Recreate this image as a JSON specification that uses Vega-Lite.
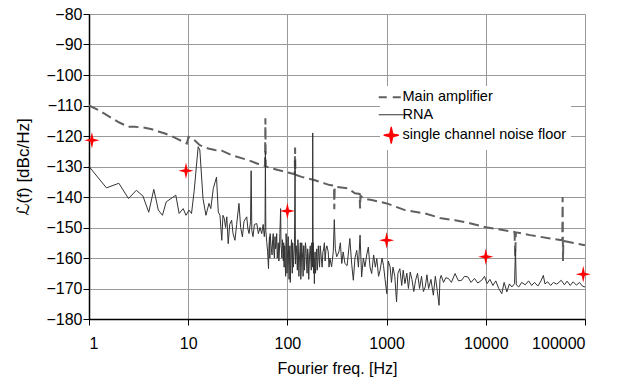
{
  "$schema": "https://vega.github.io/schema/vega-lite/v6.json",
  "width": 496,
  "height": 305,
  "autosize": "none",
  "padding": {"left": 89, "top": 14, "right": 39, "bottom": 62},
  "background": "white",
  "config": {
    "view": {"stroke": null},
    "font": "Liberation Sans",
    "axis": {
      "grid": true,
      "gridColor": "#999999",
      "gridWidth": 1,
      "gridOpacity": 1,
      "domainColor": "#000000",
      "domainWidth": 1.5,
      "tickColor": "#000000",
      "tickWidth": 1,
      "labelColor": "#000000",
      "labelFont": "Liberation Sans",
      "labelFontSize": 16,
      "labelOverlap": false,
      "titleColor": "#000000",
      "titleFont": "Liberation Sans, DejaVu Sans",
      "titleFontSize": 16,
      "titleFontWeight": "normal"
    }
  },
  "datasets": {
    "amp": [
      {"f": 1, "db": -110}, {"f": 1.25, "db": -111.5}, {"f": 1.5, "db": -113.1}, {"f": 2, "db": -115.5},
      {"f": 2.5, "db": -117}, {"f": 2.9, "db": -117}, {"f": 3.5, "db": -117.2}, {"f": 4.3, "db": -117.8},
      {"f": 5, "db": -118.5}, {"f": 5.84, "db": -119.2}, {"f": 6.8, "db": -120}, {"f": 7.94, "db": -121.1},
      {"f": 9.3, "db": -122.2}, {"f": 9.7, "db": -122.5}, {"f": 10.05, "db": -120.3}, {"f": 11.3, "db": -121.1},
      {"f": 13.1, "db": -123}, {"f": 15.9, "db": -124.1}, {"f": 18.6, "db": -124.6}, {"f": 21.8, "db": -124.8},
      {"f": 27.4, "db": -126.3}, {"f": 40.3, "db": -127.9}, {"f": 55, "db": -129.6}, {"f": 59.5, "db": -129.8},
      {"f": 60, "db": -114.2}, {"f": 60.5, "db": -130}, {"f": 69, "db": -130.6}, {"f": 94.5, "db": -131.7},
      {"f": 118.5, "db": -132.5}, {"f": 119.5, "db": -123.8}, {"f": 120.5, "db": -132.7}, {"f": 139, "db": -133.4},
      {"f": 190, "db": -134.5}, {"f": 240, "db": -135.6}, {"f": 267, "db": -136.1}, {"f": 295, "db": -136.3},
      {"f": 297, "db": -144}, {"f": 300, "db": -136.5}, {"f": 314, "db": -136.7}, {"f": 410, "db": -137.2},
      {"f": 480, "db": -138.8}, {"f": 535, "db": -139}, {"f": 540, "db": -143.8}, {"f": 545, "db": -139.5},
      {"f": 580, "db": -140.5}, {"f": 707, "db": -141}, {"f": 1005, "db": -142.1}, {"f": 1530, "db": -144.3},
      {"f": 2450, "db": -145.4}, {"f": 3550, "db": -147}, {"f": 4900, "db": -147.6}, {"f": 6900, "db": -148.6},
      {"f": 10000, "db": -149.9}, {"f": 19000, "db": -151.4}, {"f": 19500, "db": -151.5}, {"f": 19800, "db": -159.5},
      {"f": 20100, "db": -151.6}, {"f": 28000, "db": -152.5}, {"f": 44600, "db": -153.6}, {"f": 59000, "db": -154.2},
      {"f": 59500, "db": -140}, {"f": 60000, "db": -161}, {"f": 60500, "db": -154.4}, {"f": 100000, "db": -155.8}
    ],
    "rna": [
      {"f": 1, "db": -130}, {"f": 1.5, "db": -137}, {"f": 2, "db": -135.5}, {"f": 2.5, "db": -140.5},
      {"f": 3, "db": -137.8}, {"f": 3.5, "db": -139.7}, {"f": 4, "db": -145}, {"f": 4.5, "db": -137.5},
      {"f": 5, "db": -144.3}, {"f": 5.5, "db": -146}, {"f": 6, "db": -141.6}, {"f": 7.5, "db": -139.4},
      {"f": 8.1, "db": -145.4}, {"f": 8.9, "db": -143.8}, {"f": 9.5, "db": -146}, {"f": 10.2, "db": -144.3},
      {"f": 10.8, "db": -145.4}, {"f": 11.5, "db": -137.8}, {"f": 12.6, "db": -123.5}, {"f": 13.1, "db": -124.6},
      {"f": 14.1, "db": -140.5}, {"f": 15.1, "db": -146}, {"f": 16.2, "db": -142.1}, {"f": 16.9, "db": -143.8},
      {"f": 17.9, "db": -137.2}, {"f": 19.3, "db": -133.5}, {"f": 20.1, "db": -144.9}, {"f": 20.9, "db": -146},
      {"f": 21.8, "db": -154.2}, {"f": 22.4, "db": -146}, {"f": 23.1, "db": -147}, {"f": 23.8, "db": -150},
      {"f": 24.5, "db": -146.5}, {"f": 25.3, "db": -155.3}, {"f": 26.2, "db": -149}, {"f": 27.4, "db": -147.6},
      {"f": 28.3, "db": -152}, {"f": 29.6, "db": -154.2}, {"f": 30.8, "db": -149}, {"f": 32.5, "db": -142.1},
      {"f": 33.8, "db": -150}, {"f": 35.2, "db": -153.1}, {"f": 36.5, "db": -148}, {"f": 38.9, "db": -146.5},
      {"f": 40, "db": -150.5}, {"f": 41.1, "db": -152}, {"f": 42.5, "db": -148}, {"f": 43.1, "db": -131.4},
      {"f": 43.8, "db": -151}, {"f": 45, "db": -153}, {"f": 46.5, "db": -149}, {"f": 49.1, "db": -148.7},
      {"f": 51, "db": -152}, {"f": 53, "db": -150}, {"f": 55.1, "db": -152}, {"f": 57, "db": -149},
      {"f": 58.5, "db": -153}, {"f": 59.5, "db": -150}, {"f": 60, "db": -125}, {"f": 60.6, "db": -151},
      {"f": 62, "db": -155}, {"f": 63.2, "db": -158}, {"f": 64.5, "db": -163.5}, {"f": 65.2, "db": -156},
      {"f": 66, "db": -153}, {"f": 66.5, "db": -160}, {"f": 67, "db": -152}, {"f": 68, "db": -155},
      {"f": 69, "db": -157}, {"f": 70, "db": -159}, {"f": 71, "db": -154}, {"f": 72, "db": -152},
      {"f": 73, "db": -158}, {"f": 74, "db": -160}, {"f": 75, "db": -153}, {"f": 76, "db": -157},
      {"f": 77, "db": -156}, {"f": 78, "db": -152}, {"f": 79, "db": -160}, {"f": 80, "db": -158},
      {"f": 81, "db": -155}, {"f": 82, "db": -161}, {"f": 83, "db": -158}, {"f": 84, "db": -152},
      {"f": 85.5, "db": -143.8}, {"f": 86.2, "db": -156}, {"f": 87, "db": -157}, {"f": 88, "db": -160},
      {"f": 89, "db": -154}, {"f": 90, "db": -157}, {"f": 91, "db": -161}, {"f": 91.8, "db": -155},
      {"f": 92.7, "db": -163}, {"f": 93.3, "db": -158}, {"f": 94, "db": -156}, {"f": 95, "db": -162},
      {"f": 96, "db": -166}, {"f": 97, "db": -152}, {"f": 98, "db": -155}, {"f": 99, "db": -165},
      {"f": 100, "db": -160}, {"f": 101, "db": -157}, {"f": 102, "db": -153}, {"f": 103, "db": -162},
      {"f": 104, "db": -167}, {"f": 105, "db": -158}, {"f": 106, "db": -156}, {"f": 107, "db": -168},
      {"f": 108, "db": -162}, {"f": 109, "db": -157}, {"f": 110, "db": -154}, {"f": 111, "db": -160},
      {"f": 112, "db": -165}, {"f": 113, "db": -155}, {"f": 114, "db": -158}, {"f": 115, "db": -163},
      {"f": 116, "db": -160}, {"f": 117, "db": -158}, {"f": 118, "db": -155}, {"f": 119.5, "db": -128},
      {"f": 120.5, "db": -162}, {"f": 121.5, "db": -156}, {"f": 123, "db": -156}, {"f": 124.5, "db": -160},
      {"f": 126, "db": -164}, {"f": 127.5, "db": -154}, {"f": 129, "db": -157}, {"f": 130.5, "db": -166},
      {"f": 132, "db": -161}, {"f": 133.5, "db": -158}, {"f": 135, "db": -155}, {"f": 136.5, "db": -167},
      {"f": 138, "db": -163}, {"f": 139.5, "db": -155}, {"f": 141, "db": -158}, {"f": 142.5, "db": -160},
      {"f": 144, "db": -166}, {"f": 145.5, "db": -156}, {"f": 147, "db": -156}, {"f": 148.5, "db": -164},
      {"f": 150, "db": -161}, {"f": 152, "db": -155}, {"f": 154, "db": -157}, {"f": 156, "db": -162},
      {"f": 158, "db": -165}, {"f": 160, "db": -157}, {"f": 162, "db": -159}, {"f": 164, "db": -167},
      {"f": 166, "db": -162}, {"f": 168, "db": -158}, {"f": 170, "db": -156}, {"f": 172, "db": -160},
      {"f": 174, "db": -164}, {"f": 176, "db": -155}, {"f": 178, "db": -158}, {"f": 179, "db": -163},
      {"f": 180, "db": -119}, {"f": 181.5, "db": -160}, {"f": 182.5, "db": -155}, {"f": 184, "db": -165},
      {"f": 185.5, "db": -160}, {"f": 187, "db": -168.4}, {"f": 188.5, "db": -162}, {"f": 190, "db": -158},
      {"f": 192, "db": -165}, {"f": 194, "db": -163}, {"f": 196, "db": -159}, {"f": 198, "db": -157},
      {"f": 200, "db": -164}, {"f": 203, "db": -161}, {"f": 205, "db": -156}, {"f": 208, "db": -159},
      {"f": 211, "db": -163}, {"f": 214, "db": -156}, {"f": 217, "db": -158}, {"f": 220, "db": -160.2},
      {"f": 224, "db": -163}, {"f": 228, "db": -158}, {"f": 232, "db": -157}, {"f": 236, "db": -155},
      {"f": 240, "db": -161}, {"f": 245, "db": -157}, {"f": 250, "db": -156}, {"f": 258, "db": -158},
      {"f": 263, "db": -163}, {"f": 268, "db": -160}, {"f": 279, "db": -162.9}, {"f": 290, "db": -158},
      {"f": 297, "db": -147.4}, {"f": 304, "db": -157}, {"f": 314, "db": -159.6}, {"f": 330, "db": -158},
      {"f": 342, "db": -155}, {"f": 353, "db": -161.8}, {"f": 365, "db": -158}, {"f": 380, "db": -161.8},
      {"f": 400, "db": -162.5}, {"f": 426, "db": -153.6}, {"f": 445, "db": -162}, {"f": 462, "db": -167.3},
      {"f": 480, "db": -160}, {"f": 500, "db": -157.5}, {"f": 520, "db": -163}, {"f": 540, "db": -152.5},
      {"f": 560, "db": -166.2}, {"f": 583, "db": -160}, {"f": 605, "db": -162.9}, {"f": 630, "db": -159},
      {"f": 655, "db": -156.4}, {"f": 680, "db": -163}, {"f": 707, "db": -165.1}, {"f": 740, "db": -159},
      {"f": 770, "db": -163}, {"f": 796, "db": -160.2}, {"f": 830, "db": -166}, {"f": 860, "db": -164},
      {"f": 900, "db": -160}, {"f": 930, "db": -162.4}, {"f": 965, "db": -167}, {"f": 1005, "db": -171.7},
      {"f": 1040, "db": -161}, {"f": 1085, "db": -162.9}, {"f": 1120, "db": -168}, {"f": 1160, "db": -163},
      {"f": 1210, "db": -166}, {"f": 1260, "db": -174.4}, {"f": 1300, "db": -165}, {"f": 1360, "db": -163.5},
      {"f": 1420, "db": -169}, {"f": 1470, "db": -164}, {"f": 1530, "db": -168.4}, {"f": 1600, "db": -165},
      {"f": 1660, "db": -170}, {"f": 1730, "db": -164.6}, {"f": 1800, "db": -167}, {"f": 1880, "db": -171},
      {"f": 1960, "db": -167.3}, {"f": 2050, "db": -165}, {"f": 2150, "db": -170}, {"f": 2250, "db": -166},
      {"f": 2350, "db": -171}, {"f": 2450, "db": -169.5}, {"f": 2550, "db": -165.5}, {"f": 2650, "db": -170},
      {"f": 2800, "db": -167}, {"f": 2960, "db": -172.2}, {"f": 3100, "db": -166}, {"f": 3250, "db": -171},
      {"f": 3380, "db": -175.5}, {"f": 3450, "db": -167}, {"f": 3550, "db": -165.7}, {"f": 3750, "db": -168},
      {"f": 3950, "db": -166.5}, {"f": 4200, "db": -166.7}, {"f": 4500, "db": -168}, {"f": 4900, "db": -165.1},
      {"f": 5300, "db": -167.5}, {"f": 5700, "db": -167.3}, {"f": 6100, "db": -166}, {"f": 6600, "db": -166.2},
      {"f": 7100, "db": -168}, {"f": 7700, "db": -166.7}, {"f": 8300, "db": -168.2}, {"f": 9100, "db": -167.3},
      {"f": 9700, "db": -166}, {"f": 10300, "db": -168.4}, {"f": 11000, "db": -167}, {"f": 11800, "db": -169},
      {"f": 12600, "db": -167.5}, {"f": 13500, "db": -170}, {"f": 14500, "db": -171.7}, {"f": 15300, "db": -168},
      {"f": 16300, "db": -171.1}, {"f": 17300, "db": -168.5}, {"f": 18300, "db": -169.5}, {"f": 19500, "db": -168.4},
      {"f": 19900, "db": -157}, {"f": 20300, "db": -168.8}, {"f": 21500, "db": -169.5}, {"f": 23000, "db": -168},
      {"f": 25000, "db": -168.8}, {"f": 27000, "db": -167.5}, {"f": 29000, "db": -169}, {"f": 31000, "db": -168},
      {"f": 33500, "db": -169.2}, {"f": 36000, "db": -167.5}, {"f": 38000, "db": -165.7}, {"f": 39500, "db": -168.5},
      {"f": 42000, "db": -167.8}, {"f": 45000, "db": -169}, {"f": 48000, "db": -168}, {"f": 52000, "db": -168.6},
      {"f": 57500, "db": -167.3}, {"f": 62000, "db": -168.8}, {"f": 66000, "db": -167.6}, {"f": 71000, "db": -169},
      {"f": 76000, "db": -167.8}, {"f": 82000, "db": -168.9}, {"f": 88000, "db": -168}, {"f": 94000, "db": -169.2},
      {"f": 100000, "db": -169.5}
    ],
    "floor": [
      {"f": 1.07, "db": -121.4}, {"f": 9.5, "db": -131.4}, {"f": 100, "db": -144.6},
      {"f": 1000, "db": -154.2}, {"f": 10000, "db": -159.6}, {"f": 96000, "db": -165.3}
    ]
  },
  "layer": [
    {
      "data": {"name": "amp"},
      "mark": {"type": "line", "strokeDash": [10, 5], "strokeWidth": 2},
      "encoding": {
        "x": {
          "field": "f", "type": "quantitative",
          "scale": {"type": "log", "domain": [1, 100000], "nice": false},
          "axis": {
            "values": [1, 10, 100, 1000, 10000, 100000],
            "format": "d",
            "tickSize": 6,
            "labelPadding": 10,
            "title": "Fourier freq.  [Hz]",
            "titlePadding": 9
          }
        },
        "y": {
          "field": "db", "type": "quantitative",
          "scale": {"domain": [-180, -80], "nice": false, "zero": false},
          "axis": {
            "values": [-180, -170, -160, -150, -140, -130, -120, -110, -100, -90, -80],
            "tickCount": 11,
            "tickSize": 6,
            "labelPadding": 1,
            "title": "ℒ(f)  [dBc/Hz]",
            "titleFontSize": 17,
            "titleBaseline": "alphabetic",
            "titleX": -61
          }
        },
        "color": {
          "datum": "Main amplifier",
          "scale": {
            "domain": ["Main amplifier", "RNA", "single channel noise floor"],
            "range": ["#606060", "#333333", "#ff0000"]
          },
          "legend": {
            "orient": "none",
            "legendX": 291,
            "legendY": 72,
            "title": null,
            "fillColor": "white",
            "padding": 4,
            "rowPadding": 2.5,
            "symbolSize": 370,
            "labelFont": "Liberation Sans",
            "labelFontSize": 14.5,
            "labelLimit": 400,
            "labelColor": "#000000",
            "labelOffset": 4,
            "encode": {
              "symbols": {
                "update": {
                  "shape": {"signal": "datum.value === 'single channel noise floor' ? 'M0,-1.1L0.2,-0.2L1,0L0.2,0.2L0,1.1L-0.2,0.2L-1,0L-0.2,-0.2Z' : 'stroke'"},
                  "size": {"signal": "datum.value === 'single channel noise floor' ? 230 : 625"},
                  "strokeDash": {"signal": "datum.value === 'Main amplifier' ? [8, 6] : [1, 0]"},
                  "strokeWidth": {"signal": "datum.value === 'Main amplifier' ? 2 : 1.2"},
                  "fill": {"signal": "datum.value === 'single channel noise floor' ? '#ff0000' : 'transparent'"},
                  "stroke": {"signal": "datum.value === 'Main amplifier' ? '#606060' : (datum.value === 'RNA' ? '#333333' : 'transparent')"},
                  "opacity": {"value": 1}
                }
              }
            }
          }
        }
      }
    },
    {
      "data": {"name": "rna"},
      "mark": {"type": "line", "strokeWidth": 1},
      "encoding": {
        "x": {"field": "f", "type": "quantitative"},
        "y": {"field": "db", "type": "quantitative"},
        "color": {"datum": "RNA"}
      }
    },
    {
      "data": {"name": "floor"},
      "mark": {
        "type": "point",
        "shape": "M0,-1.1L0.2,-0.2L1,0L0.2,0.2L0,1.1L-0.2,0.2L-1,0L-0.2,-0.2Z",
        "filled": true,
        "size": 230,
        "opacity": 1
      },
      "encoding": {
        "x": {"field": "f", "type": "quantitative"},
        "y": {"field": "db", "type": "quantitative"},
        "color": {"datum": "single channel noise floor"}
      }
    }
  ]
}
